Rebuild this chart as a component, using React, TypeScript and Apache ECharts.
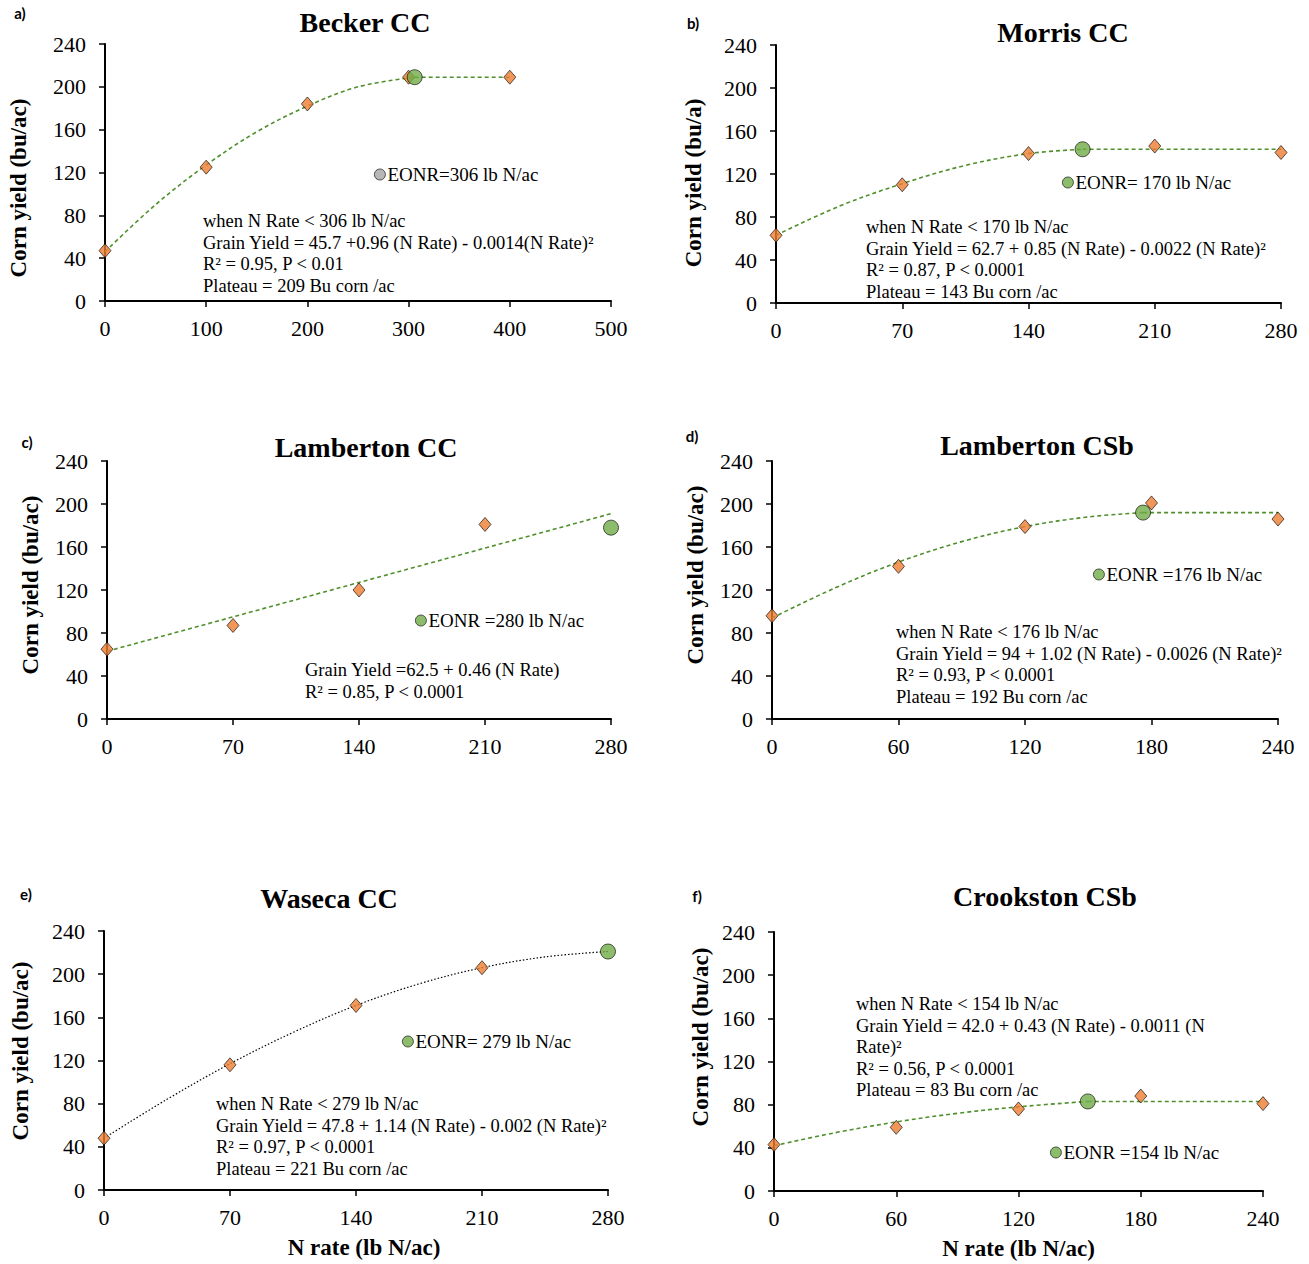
import React, { useEffect, useRef } from "react";
import * as echarts from "echarts";

// ---------- data ----------
// a) Becker CC
const beckerRates = [0, 100, 200, 300, 400];
const beckerYields = [47, 125, 184, 209, 209];
const beckerEonr = [306, 209];
const beckerCurveRates = [0, 50, 100, 150, 200, 250, 306];
const beckerCurveYields = [46, 90, 127, 158, 182, 200, 209];
const beckerPlateauRates = [306, 400];

// b) Morris CC
const morrisRates = [0, 70, 140, 210, 280];
const morrisYields = [63, 110, 139, 146, 140];
const morrisEonr = [170, 143];
const morrisCurveRates = [0, 35, 70, 105, 140, 170];
const morrisCurveYields = [63, 90, 111, 128, 139, 143];
const morrisPlateauRates = [170, 280];

// c) Lamberton CC
const lambCCRates = [0, 70, 140, 210];
const lambCCYields = [65, 87, 120, 181];
const lambCCEonr = [280, 178];
const lambCCCurveRates = [0, 280];
const lambCCCurveYields = [63, 191];

// d) Lamberton CSb
const lambCSbRates = [0, 60, 120, 180, 240];
const lambCSbYields = [96, 142, 179, 201, 186];
const lambCSbEonr = [176, 192];
const lambCSbCurveRates = [0, 30, 60, 90, 120, 150, 176];
const lambCSbCurveYields = [94, 122, 146, 165, 179, 188, 192];
const lambCSbPlateauRates = [176, 240];

// e) Waseca CC
const wasecaRates = [0, 70, 140, 210];
const wasecaYields = [48, 116, 171, 206];
const wasecaEonr = [280, 221];
const wasecaCurveRates = [0, 35, 70, 105, 140, 175, 210, 245, 280];
const wasecaCurveYields = [48, 84, 117, 146, 171, 191, 206, 216, 221];

// f) Crookston CSb
const crookRates = [0, 60, 120, 180, 240];
const crookYields = [43, 59, 76, 88, 81];
const crookEonr = [154, 83];
const crookCurveRates = [0, 30, 60, 90, 120, 154];
const crookCurveYields = [42, 54, 64, 72, 78, 83];
const crookPlateauRates = [154, 240];

const yTicks = [0, 40, 80, 120, 160, 200, 240];

// ---------- styling ----------
const SERIF = '"Liberation Serif", "Times New Roman", serif';
const SANS = 'Lato, "Liberation Sans", Arial, sans-serif';
const ORANGE = "#ED7D31";
const GREEN = "#70AD47";
const GREY = "#A5A5A5";
const LINE_GREEN = "#4F8F2C";

type Panel = {
  letter: string;
  title: string;
  yName: string;
  xName?: string;
  xNameShift?: number;
  rates: number[];
  yields: number[];
  eonr: number[];
  curveRates: number[];
  curveYields: number[];
  plateauRates?: number[];
  eonrLabel: string;
  legendColor: string;
  lines: string[];
  dotted?: boolean;
  xMax: number;
  xStep: number;
  grid: { left: number; top: number; width: number; height: number };
  titlePos: [number, number];
  letterPos: [number, number];
  yNamePos: [number, number];
  legendPos: [number, number];
  textPos: [number, number];
};

const panels: Panel[] = [
  {
    letter: "a)", title: "Becker CC", yName: "Corn yield (bu/ac)",
    rates: beckerRates, yields: beckerYields, eonr: beckerEonr,
    curveRates: beckerCurveRates, curveYields: beckerCurveYields, plateauRates: beckerPlateauRates,
    eonrLabel: "EONR=306 lb N/ac", legendColor: GREY,
    lines: ["when N Rate < 306 lb N/ac", "Grain Yield = 45.7 +0.96 (N Rate) - 0.0014(N Rate)²", "R² = 0.95, P < 0.01", "Plateau = 209 Bu corn /ac"],
    xMax: 500, xStep: 100,
    grid: { left: 105, top: 44, width: 506, height: 257 },
    titlePos: [365, 22], letterPos: [20, 13], yNamePos: [18, 188], legendPos: [374, 176], textPos: [203, 221],
  },
  {
    letter: "b)", title: "Morris CC", yName: "Corn yield (bu/a)",
    rates: morrisRates, yields: morrisYields, eonr: morrisEonr,
    curveRates: morrisCurveRates, curveYields: morrisCurveYields, plateauRates: morrisPlateauRates,
    eonrLabel: "EONR= 170 lb N/ac", legendColor: GREEN,
    lines: ["when N Rate < 170 lb N/ac", "Grain Yield = 62.7 + 0.85 (N Rate) - 0.0022 (N Rate)²", "R² = 0.87, P < 0.0001", "Plateau = 143 Bu corn /ac"],
    xMax: 280, xStep: 70,
    grid: { left: 776, top: 45, width: 505, height: 258 },
    titlePos: [1063, 32], letterPos: [693, 23], yNamePos: [693, 183], legendPos: [1062, 184], textPos: [866, 227],
  },
  {
    letter: "c)", title: "Lamberton CC", yName: "Corn yield (bu/ac)",
    rates: lambCCRates, yields: lambCCYields, eonr: lambCCEonr,
    curveRates: lambCCCurveRates, curveYields: lambCCCurveYields,
    eonrLabel: "EONR =280 lb N/ac", legendColor: GREEN,
    lines: ["Grain Yield =62.5 + 0.46 (N Rate)", "R² = 0.85, P < 0.0001"],
    xMax: 280, xStep: 70,
    grid: { left: 107, top: 461, width: 504, height: 258 },
    titlePos: [366, 447], letterPos: [27, 442], yNamePos: [30, 585], legendPos: [415, 622], textPos: [305, 670],
  },
  {
    letter: "d)", title: "Lamberton CSb", yName: "Corn yield (bu/ac)",
    rates: lambCSbRates, yields: lambCSbYields, eonr: lambCSbEonr,
    curveRates: lambCSbCurveRates, curveYields: lambCSbCurveYields, plateauRates: lambCSbPlateauRates,
    eonrLabel: "EONR =176 lb N/ac", legendColor: GREEN,
    lines: ["when N Rate < 176 lb N/ac", "Grain Yield = 94 + 1.02 (N Rate) - 0.0026 (N Rate)²", "R² = 0.93, P < 0.0001", "Plateau = 192 Bu corn /ac"],
    xMax: 240, xStep: 60,
    grid: { left: 772, top: 461, width: 506, height: 258 },
    titlePos: [1037, 445], letterPos: [692, 436], yNamePos: [695, 575], legendPos: [1093, 576], textPos: [896, 632],
  },
  {
    letter: "e)", title: "Waseca CC", yName: "Corn yield (bu/ac)", xName: "N rate (lb N/ac)", xNameShift: 8,
    rates: wasecaRates, yields: wasecaYields, eonr: wasecaEonr,
    curveRates: wasecaCurveRates, curveYields: wasecaCurveYields, dotted: true,
    eonrLabel: "EONR= 279 lb N/ac", legendColor: GREEN,
    lines: ["when N Rate < 279 lb N/ac", "Grain Yield = 47.8 + 1.14 (N Rate) - 0.002 (N Rate)²", "R² = 0.97, P < 0.0001", "Plateau = 221 Bu corn /ac"],
    xMax: 280, xStep: 70,
    grid: { left: 104, top: 931, width: 504, height: 259 },
    titlePos: [329, 898], letterPos: [26, 894], yNamePos: [20, 1051], legendPos: [402, 1043], textPos: [216, 1104],
  },
  {
    letter: "f)", title: "Crookston CSb", yName: "Corn yield (bu/ac)", xName: "N rate (lb N/ac)",
    rates: crookRates, yields: crookYields, eonr: crookEonr,
    curveRates: crookCurveRates, curveYields: crookCurveYields, plateauRates: crookPlateauRates,
    eonrLabel: "EONR =154 lb N/ac", legendColor: GREEN,
    lines: ["when N Rate < 154 lb N/ac", "Grain Yield = 42.0 + 0.43 (N Rate) - 0.0011 (N", "Rate)²", "R² = 0.56, P < 0.0001", "Plateau = 83 Bu corn /ac"],
    xMax: 240, xStep: 60,
    grid: { left: 774, top: 932, width: 489, height: 259 },
    titlePos: [1045, 896], letterPos: [697, 896], yNamePos: [700, 1037], legendPos: [1050, 1154], textPos: [856, 1004],
  },
];

const LINE_H = 21.5;

function buildOption() {
  const series: any[] = [];
  const graphic: any[] = [];
  panels.forEach((p, i) => {
    const lineStyle = p.dotted
      ? { color: "#000", width: 1.2, type: [1.5, 2] }
      : { color: LINE_GREEN, width: 1.6, type: [4, 3] };
    series.push({
      type: "line", xAxisIndex: i, yAxisIndex: i, name: p.title + " fit",
      data: p.curveRates.map((x, k) => [x, p.curveYields[k]]),
      smooth: p.curveRates.length > 2 ? 0.35 : false, showSymbol: false, symbol: "none",
      lineStyle, silent: true, z: 2,
    });
    if (p.plateauRates) {
      series.push({
        type: "line", xAxisIndex: i, yAxisIndex: i, name: p.title + " plateau",
        data: p.plateauRates.map((x) => [x, p.eonr[1]]),
        showSymbol: false, symbol: "none", lineStyle, silent: true, z: 2,
      });
    }
    series.push({
      type: "scatter", xAxisIndex: i, yAxisIndex: i, name: p.title + " yield",
      data: p.rates.map((x, k) => [x, p.yields[k]]),
      symbol: "diamond", symbolSize: [12, 14],
      itemStyle: { color: ORANGE, borderColor: "#000", borderWidth: 0.8 }, z: 3,
    });
    series.push({
      type: "scatter", xAxisIndex: i, yAxisIndex: i, name: p.eonrLabel,
      data: [p.eonr], symbol: "circle", symbolSize: 15,
      itemStyle: { color: GREEN, borderColor: "#000", borderWidth: 0.8 }, z: 4,
    });

    graphic.push({
      type: "text", x: p.titlePos[0], y: p.titlePos[1],
      style: { text: p.title, font: `bold 28px ${SERIF}`, fill: "#000", textAlign: "center", textVerticalAlign: "middle" },
    });
    graphic.push({
      type: "text", x: p.letterPos[0], y: p.letterPos[1],
      style: { text: p.letter, font: `bold 15px ${SANS}`, fill: "#000", textAlign: "center", textVerticalAlign: "middle" },
    });
    graphic.push({
      type: "text", x: p.yNamePos[0], y: p.yNamePos[1], rotation: Math.PI / 2,
      style: { text: p.yName, font: `bold 23px ${SERIF}`, fill: "#000", textAlign: "center", textVerticalAlign: "middle" },
    });
    graphic.push({
      type: "text", x: p.textPos[0], y: p.textPos[1] - LINE_H / 2,
      style: { text: p.lines.join("\n"), font: `18.5px ${SERIF}`, lineHeight: LINE_H, fill: "#000", textAlign: "left", textVerticalAlign: "top" },
    });
  });

  const legend = panels.map((p) => ({
    left: p.legendPos[0], top: p.legendPos[1] - 11, padding: 0,
    orient: "horizontal", selectedMode: false,
    icon: "circle", itemWidth: 11, itemHeight: 11, itemGap: 0,
    data: [{ name: p.eonrLabel, itemStyle: { color: p.legendColor, borderColor: "#000", borderWidth: 0.8 } }],
    textStyle: { fontFamily: SERIF, fontSize: 19, color: "#000", padding: [0, 0, 0, -3] },
  }));

  return {
    animation: false,
    backgroundColor: "#fff",
    grid: panels.map((p) => ({ ...p.grid, containLabel: false })),
    xAxis: panels.map((p, i) => ({
      type: "value", gridIndex: i, min: 0, max: p.xMax, interval: p.xStep,
      name: p.xName || "", nameLocation: "middle", nameGap: 46,
      nameTextStyle: {
        fontFamily: SERIF, fontSize: 23, fontWeight: "bold", color: "#000",
        padding: [0, 0, 0, 2 * (p.xNameShift || 0)],
      },
      axisLine: { show: true, onZero: false, lineStyle: { color: "#000", width: 2 } },
      axisTick: { show: true, length: 6, lineStyle: { color: "#000", width: 1.5 } },
      axisLabel: { color: "#000", fontFamily: SERIF, fontSize: 22, margin: 16 },
      splitLine: { show: false },
    })),
    yAxis: panels.map((p, i) => ({
      type: "value", gridIndex: i, min: yTicks[0], max: yTicks[yTicks.length - 1], interval: yTicks[1] - yTicks[0],
      axisLine: { show: true, onZero: false, lineStyle: { color: "#000", width: 2 } },
      axisTick: { show: true, length: 6, lineStyle: { color: "#000", width: 1.5 } },
      axisLabel: { color: "#000", fontFamily: SERIF, fontSize: 22, margin: 19 },
      splitLine: { show: false },
    })),
    legend,
    series,
    graphic,
  };
}

export default function App() {
  const ref = useRef<HTMLDivElement>(null);
  useEffect(() => {
    if (!ref.current) return;
    const chart = echarts.init(ref.current, null, { renderer: "svg" });
    chart.setOption(buildOption() as any);
    return () => chart.dispose();
  }, []);
  return (
    <div
      ref={ref}
      style={{ position: "absolute", left: 0, top: 0, width: 1309, height: 1264, background: "#fff" }}
    />
  );
}
